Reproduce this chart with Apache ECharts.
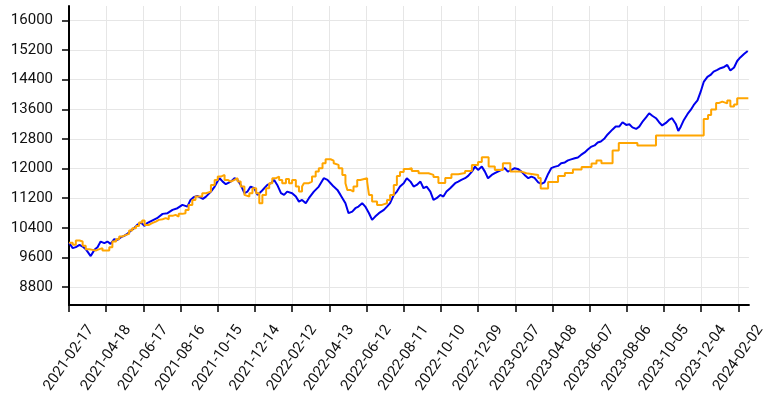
<!DOCTYPE html>
<html>
<head>
<meta charset="utf-8">
<script src="https://cdn.jsdelivr.net/npm/echarts@6/dist/echarts.min.js"></script>
<style>
  html, body { margin: 0; padding: 0; background: #fff; }
  #chart { width: 768px; height: 400px; }
</style>
</head>
<body>
<div id="chart"></div>
<script>
// dates are kept as days after startDate
var startDate = "2021-02-17";
var endDay = 1097;

var tickLabels = ["2021-02-17", "2021-04-18", "2021-06-17", "2021-08-16", "2021-10-15",
  "2021-12-14", "2022-02-12", "2022-04-13", "2022-06-12", "2022-08-11", "2022-10-10",
  "2022-12-09", "2023-02-07", "2023-04-08", "2023-06-07", "2023-08-06", "2023-10-05",
  "2023-12-04", "2024-02-02"];
var yTicks = [8800, 9600, 10400, 11200, 12000, 12800, 13600, 14400, 15200, 16000];

var blueDays = [0, 6, 11, 17, 22, 27, 35, 41, 46, 51,
  57, 62, 67, 73, 78, 84, 89, 94, 100, 105,
  110, 116, 122, 126, 134, 142, 151, 159, 167, 175,
  183, 191, 196, 201, 207, 210, 216, 221, 229, 235,
  240, 243, 248, 253, 261, 267, 272, 277, 283, 288,
  293, 299, 304, 310, 315, 320, 326, 331, 336, 342,
  347, 352, 360, 366, 371, 376, 382, 387, 395, 403,
  411, 417, 422, 427, 433, 438, 446, 451, 457, 462,
  467, 473, 478, 484, 489, 494, 500, 508, 513, 518,
  524, 529, 534, 540, 545, 551, 556, 561, 567, 572,
  577, 583, 588, 593, 599, 604, 609, 615, 623, 628,
  633, 639, 644, 650, 655, 660, 666, 671, 676, 682,
  687, 692, 698, 703, 708, 714, 719, 724, 730, 735,
  741, 746, 751, 757, 762, 767, 773, 778, 783, 789,
  794, 800, 805, 810, 816, 821, 826, 832, 837, 842,
  848, 853, 858, 864, 869, 877, 882, 888, 893, 899,
  904, 909, 915, 920, 925, 931, 936, 941, 947, 952,
  957, 963, 968, 973, 979, 983, 987, 992, 998, 1003,
  1008, 1014, 1019, 1024, 1030, 1035, 1040, 1046, 1051, 1057,
  1062, 1067, 1073, 1078, 1083, 1089, 1091, 1095];
var blueValues = [10000, 9853, 9880, 9942, 9896, 9826, 9640, 9807, 9880, 10031,
  9988, 10031, 9969, 10096, 10077, 10149, 10184, 10238, 10327, 10392,
  10481, 10543, 10454, 10527, 10597, 10662, 10778, 10796, 10885, 10931,
  11020, 10974, 11155, 11228, 11263, 11290, 11182, 11244, 11379, 11514,
  11667, 11740, 11648, 11578, 11648, 11740, 11694, 11559, 11336, 11379,
  11514, 11470, 11290, 11379, 11470, 11559, 11605, 11694, 11559, 11336,
  11290, 11379, 11336, 11244, 11109, 11155, 11066, 11201, 11379, 11514,
  11740, 11694, 11605, 11514, 11425, 11290, 11066, 10796, 10840, 10931,
  10974, 11066, 10974, 10796, 10616, 10705, 10796, 10885, 10974, 11066,
  11290, 11379, 11514, 11605, 11740, 11648, 11514, 11559, 11648, 11470,
  11514, 11379, 11155, 11201, 11290, 11244, 11379, 11470, 11605, 11648,
  11694, 11740, 11802, 11918, 12053, 11964, 12053, 11918, 11740, 11829,
  11875, 11918, 11964, 12010, 11918, 11964, 12010, 11991, 11918, 11829,
  11740, 11783, 11748, 11627, 11586, 11627, 11856, 12010, 12045, 12072,
  12144, 12166, 12220, 12247, 12279, 12301, 12368, 12436, 12516, 12584,
  12624, 12705, 12732, 12813, 12921, 13056, 13137, 13137, 13250, 13177,
  13196, 13110, 13069, 13131, 13258, 13379, 13492, 13425, 13358, 13250,
  13163, 13231, 13312, 13358, 13204, 13015, 13131, 13312, 13474, 13581,
  13716, 13838, 14067, 14336, 14471, 14525, 14614, 14660, 14706, 14741,
  14795, 14646, 14727, 14902, 14997, 15091, 15110, 15172];

var orangeDays = [0, 6, 11, 17, 22, 27, 33, 38, 43, 49,
  54, 59, 65, 70, 76, 81, 86, 92, 97, 102,
  108, 113, 118, 122, 129, 134, 140, 145, 151, 156,
  161, 167, 172, 177, 183, 188, 193, 199, 204, 209,
  215, 221, 229, 235, 240, 245, 251, 256, 261, 267,
  272, 277, 283, 285, 291, 296, 302, 307, 312, 318,
  323, 328, 334, 339, 344, 350, 355, 360, 366, 371,
  376, 379, 387, 392, 398, 403, 409, 414, 422, 427,
  430, 435, 441, 446, 449, 454, 459, 465, 470, 481,
  484, 489, 497, 505, 513, 518, 524, 529, 534, 540,
  548, 553, 564, 580, 588, 596, 607, 617, 628, 639,
  650, 660, 666, 677, 687, 700, 712, 730, 738, 757,
  761, 773, 789, 800, 813, 827, 843, 851, 859, 877,
  887, 917, 947, 1024, 1031, 1036, 1044, 1049, 1054, 1062,
  1067, 1073, 1078, 1096];
var orangeValues = [10000, 9942, 10058, 10031, 9915, 9826, 9807, 9788, 9826, 9853,
  9788, 9788, 9880, 10031, 10096, 10166, 10211, 10238, 10327, 10392,
  10454, 10543, 10597, 10481, 10527, 10570, 10616, 10635, 10662, 10635,
  10724, 10751, 10705, 10778, 10796, 10885, 11020, 11155, 11244, 11244,
  11336, 11379, 11559, 11694, 11783, 11829, 11694, 11648, 11694, 11740,
  11648, 11514, 11290, 11244, 11336, 11470, 11336, 11066, 11290, 11470,
  11605, 11740, 11783, 11694, 11605, 11721, 11605, 11694, 11514, 11379,
  11514, 11605, 11648, 11783, 11918, 12010, 12144, 12252, 12214, 12144,
  12099, 12010, 11829, 11605, 11425, 11379, 11514, 11694, 11740, 11648,
  11290, 11109, 11020, 11066, 11155, 11290, 11559, 11802, 11910, 11991,
  12010, 11937, 11875, 11829, 11775, 11613, 11748, 11848, 11883, 11937,
  12099, 12180, 12306, 12053, 11964, 12144, 11918, 11875, 11829, 11748,
  11465, 11640, 11802, 11883, 11977, 12045, 12139, 12220, 12144, 12490,
  12692, 12624, 12894, 13339, 13447, 13595, 13770, 13805, 13757, 13838,
  13676, 13730, 13897, 13891];

(function() {
  var DAY = 86400000;
  var t0 = Date.parse(startDate);
  function pairs(days, values) {
    return days.map(function(d, i) { return [d, values[i]]; });
  }
  // x axis is a value axis counted in days, labels turned back into dates
  var xTicks = tickLabels.map(function(s) { return Math.round((Date.parse(s) - t0) / DAY); });
  var font = "Roboto";

  var myChart = echarts.init(document.getElementById("chart"));
  var option = {
    animation: false,
    backgroundColor: "#fff",
    grid: { left: 69, right: 16, top: 6, bottom: 95 },
    xAxis: {
      type: "value",
      min: 0,
      max: endDay,
      axisLine: { show: true, lineStyle: { color: "#000", width: 2 } },
      axisTick: {
        show: true,
        length: 7,
        customValues: xTicks,
        lineStyle: { color: "#000", width: 1.5 }
      },
      axisLabel: {
        customValues: xTicks,
        rotate: 55,
        align: "center",
        verticalAlign: "middle",
        margin: 53,
        fontSize: 15,
        fontFamily: font,
        color: "#111",
        formatter: function(v) {
          return new Date(t0 + v * DAY).toISOString().slice(0, 10);
        }
      },
      splitLine: { show: true, lineStyle: { color: "#e6e6e6", width: 1 } }
    },
    yAxis: {
      type: "value",
      min: 8320,
      max: 16385,
      axisLine: { show: true, lineStyle: { color: "#000", width: 2 } },
      axisTick: {
        show: true,
        length: 7,
        customValues: yTicks,
        lineStyle: { color: "#000", width: 1.5 }
      },
      axisLabel: {
        customValues: yTicks,
        margin: 16,
        fontSize: 15,
        fontFamily: font,
        color: "#111",
        formatter: function(v) { return String(v); }
      },
      splitLine: { show: true, lineStyle: { color: "#e6e6e6", width: 1 } }
    },
    series: [
      {
        name: "blue",
        type: "line",
        data: pairs(blueDays, blueValues),
        showSymbol: false,
        lineStyle: { color: "#0000ee", width: 2 },
        itemStyle: { color: "#0000ee" }
      },
      {
        name: "orange",
        type: "line",
        step: "end",
        data: pairs(orangeDays, orangeValues),
        showSymbol: false,
        lineStyle: { color: "#ffa500", width: 2 },
        itemStyle: { color: "#ffa500" }
      }
    ]
  };
  myChart.setOption(option);
  window.addEventListener("resize", function() {
    myChart.resize();
  });
})();
</script>
</body>
</html>
